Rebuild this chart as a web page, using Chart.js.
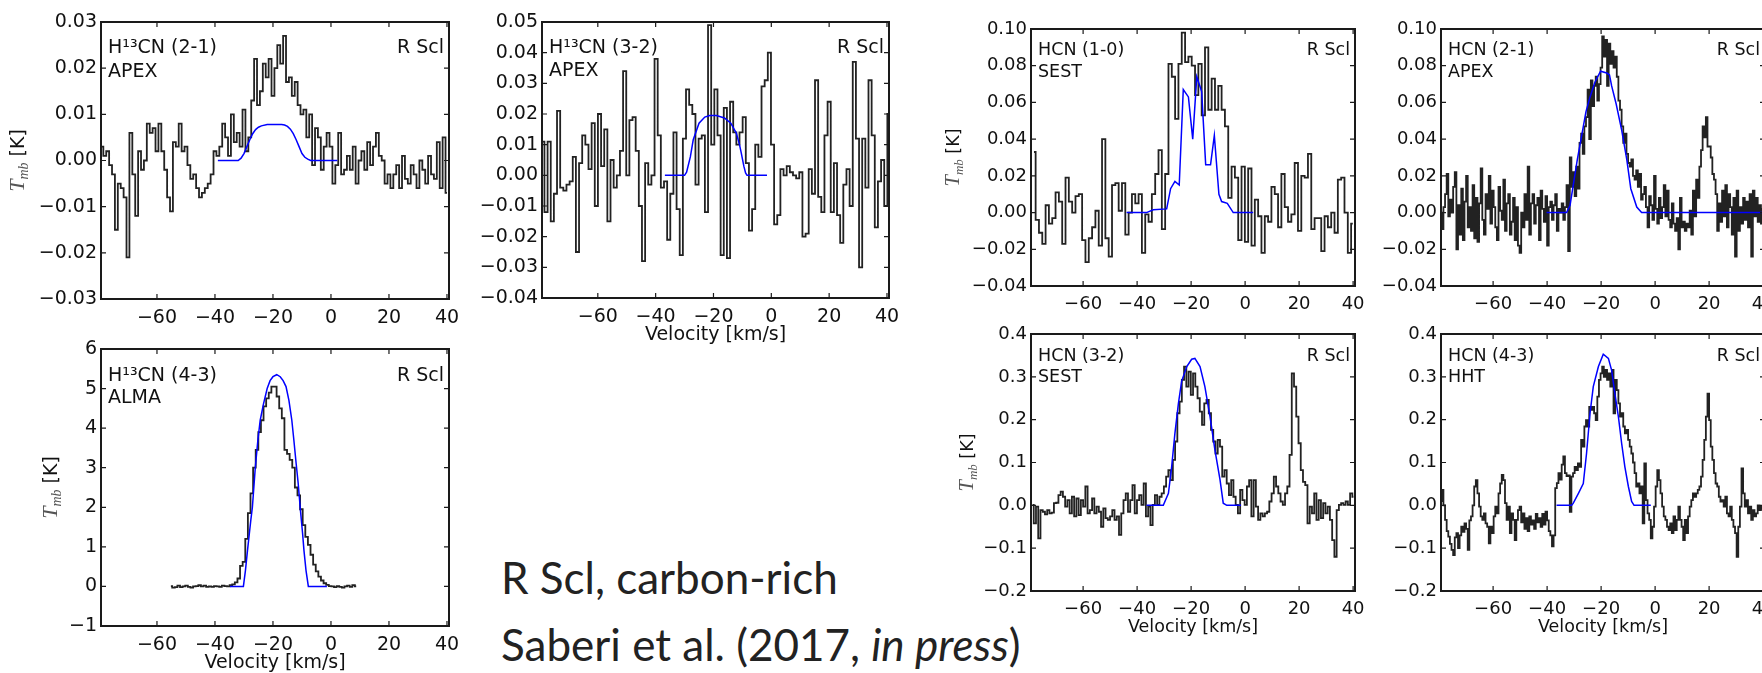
<!DOCTYPE html>
<html lang="en">
<head>
<meta charset="UTF-8" />
<title>R Scl HCN spectra</title>
<script src="https://cdn.jsdelivr.net/npm/chart.js@4.4.0/dist/chart.umd.min.js"></script>
<style>
  html, body { margin:0; padding:0; background:#fff; }
  body { width:1762px; height:673px; position:relative; overflow:hidden; }
  canvas { position:absolute; }
  .note { position:absolute; left:501px; font-family:Lato, sans-serif; font-weight:400; font-size:44px; color:#222; white-space:nowrap; line-height:1; }
</style>
</head>
<body>
<div class="note" style="top:555px">R Scl, carbon-rich</div>
<div class="note" style="top:622px">Saberi et al. (2017, <i>in press</i>)</div>

<script>
// ── shared axis values ─────────────────────────────────────────
const vMin = -79.3, vMax = 40.7;
const xTicks = [-60, -40, -20, 0, 20, 40];

// ── H13CN (2-1) APEX ───────────────────────────────────────────
const h21Start = -79, h21Step = 1.0;
const h21T = [
  0.003, 0.001, 0.002, -0.001, -0.003, -0.015, -0.005, -0.006, -0.008, -0.021,
  0.006, -0.003, -0.012, 0.002, -0.002, 0.000, 0.008, 0.006, 0.007, 0.002,
  0.008, 0.002, -0.002, -0.008, -0.011, 0.004, 0.003, 0.008, 0.002, 0.003,
  -0.001, -0.004, -0.003, -0.006, -0.008, -0.007, -0.006, -0.005, -0.003, 0.002,
  0.001, 0.003, 0.008, 0.005, 0.001, 0.010, 0.004, 0.006, 0.003, 0.011,
  0.002, 0.005, 0.013, 0.022, 0.012, 0.015, 0.021, 0.018, 0.022, 0.014,
  0.020, 0.025, 0.021, 0.027, 0.017, 0.018, 0.014, 0.017, 0.012, 0.010,
  0.011, 0.005, 0.010, -0.001, 0.007, 0.005, -0.002, 0.003, 0.006, 0.003,
  -0.005, -0.001, 0.006, -0.003, -0.002, 0.001, -0.002, 0.003, -0.005, 0.000,
  0.002, -0.002, 0.004, -0.001, 0.003, 0.006, 0.001, 0.000, -0.005, -0.003,
  -0.006, -0.003, -0.001, -0.006, 0.001, -0.004, -0.005, -0.001, -0.003, -0.006,
  0.000, -0.002, -0.005, 0.001, -0.003, -0.004, 0.004, -0.006, 0.005, -0.007
];
const h21ModelV = [-39, -32, -31, -30, -29, -28, -27, -26, -25, -24, -22, -17, -16, -15, -14, -13, -12, -11, -10, -9, -8, -7, 2.2];
const h21ModelT = [0, 0, 0.0005, 0.0015, 0.003, 0.0045, 0.0058, 0.0067, 0.0072, 0.0075, 0.0078, 0.0078, 0.0077, 0.0074, 0.0068, 0.0058, 0.0045, 0.003, 0.0015, 0.0007, 0.0003, 0, 0];

// ── H13CN (3-2) APEX ───────────────────────────────────────────
const h32Start = -79, h32Step = 1.088;
const h32T = [
  0.011, -0.012, 0.011, -0.015, -0.006, 0.021, -0.004, -0.005, -0.003, -0.002,
  0.006, -0.025, 0.004, 0.013, 0.010, 0.002, 0.017, -0.010, 0.020, 0.003,
  0.015, -0.015, 0.005, -0.004, 0.000, 0.008, 0.034, 0.000, 0.018, 0.019,
  0.008, -0.010, -0.028, 0.004, -0.003, 0.000, 0.038, 0.013, -0.004, -0.002,
  -0.021, -0.006, 0.014, -0.011, -0.026, 0.012, 0.028, 0.023, 0.020, -0.003,
  0.012, 0.013, -0.012, 0.049, 0.010, 0.028, 0.013, -0.026, 0.022, -0.027,
  0.024, 0.014, 0.010, 0.014, 0.019, 0.004, -0.018, -0.011, 0.010, 0.006,
  0.029, 0.031, 0.040, 0.010, -0.016, -0.013, 0.002, 0.000, 0.003, 0.001,
  0.000, -0.001, 0.001, -0.020, -0.019, 0.002, -0.006, 0.031, -0.007, -0.012,
  0.013, 0.024, -0.012, 0.004, -0.013, -0.022, -0.003, 0.002, -0.010, 0.037,
  0.012, -0.030, 0.012, -0.004, 0.031, 0.013, -0.017, -0.002, 0.005, -0.010,
  0.020
];
const h32ModelV = [-36.8, -30, -29.3, -28, -27, -25, -23, -21.3, -19, -16.2, -14, -12.1, -11, -10.4, -9.5, -8.9, -8.4, -1.5];
const h32ModelT = [0, 0, 0.001, 0.006, 0.0116, 0.017, 0.019, 0.0195, 0.0195, 0.0187, 0.017, 0.0138, 0.010, 0.0073, 0.003, 0.0008, 0, 0];

// ── H13CN (4-3) ALMA ───────────────────────────────────────────
const h43Start = -55.2, h43Step = 0.9;
const h43T = [
  0.01, -0.03, -0.02, 0.02, -0.02, 0.00, 0.02, -0.01, -0.03, 0.00,
  0.01, 0.03, 0.00, 0.02, -0.01, 0.00, -0.01, 0.01, 0.00, -0.01,
  0.02, 0.01, 0.00, 0.03, 0.05, 0.10, 0.20, 0.52, 0.62, 1.20,
  1.85, 2.35, 3.00, 3.45, 3.90, 4.20, 4.55, 4.75, 4.90, 5.05,
  5.05, 4.80, 4.50, 4.25, 3.45, 3.35, 3.20, 3.00, 2.50, 2.30,
  1.95, 1.55, 1.25, 1.05, 0.80, 0.55, 0.38, 0.25, 0.15, 0.08,
  0.04, 0.01, 0.00, -0.02, 0.01, -0.01, -0.03, 0.00, 0.02, -0.01,
  0.03, 0.00
];
const h43ModelV = [-34.8, -30.2, -29.5, -28.8, -28.2, -27.6, -27.1, -26.1, -25.2, -24.4, -23.3, -22, -21, -20, -18.7, -17.5, -16.5, -15.5, -14.5, -13.5, -12.8, -12, -11.3, -10.5, -9.8, -9.3, -8.6, -7.8, -1.4];
const h43ModelT = [0, 0, 0.4, 0.9, 1.3, 1.7, 2.0, 3.0, 3.7, 4.2, 4.6, 5.0, 5.2, 5.3, 5.35, 5.3, 5.2, 5.05, 4.7, 4.2, 3.7, 3.1, 2.6, 1.9, 1.35, 0.9, 0.4, 0, 0];

// ── HCN (1-0) SEST ─────────────────────────────────────────────
const c10Start = -78.2, c10Step = 1.23;
const c10T = [
  0.033, -0.004, -0.011, -0.017, 0.004, -0.006, -0.003, 0.011, 0.006, -0.017,
  0.019, 0.006, 0.000, 0.009, 0.010, -0.015, -0.027, -0.014, -0.008, 0.001,
  -0.018, 0.040, -0.014, -0.024, 0.015, 0.016, 0.001, 0.016, -0.012, 0.000,
  0.010, 0.005, 0.010, -0.022, -0.001, -0.005, 0.010, 0.021, 0.034, -0.009,
  0.021, 0.081, 0.074, 0.051, 0.081, 0.098, 0.082, 0.085, 0.080, 0.064,
  0.081, 0.053, 0.090, 0.056, 0.073, 0.056, 0.069, 0.056, 0.047, 0.008,
  0.025, 0.019, -0.015, 0.025, -0.016, 0.024, -0.018, 0.007, -0.002, -0.022,
  -0.002, -0.005, 0.014, 0.010, -0.008, 0.021, 0.003, -0.005, -0.001, 0.027,
  -0.010, 0.020, 0.019, 0.032, -0.009, -0.003, -0.003, -0.021, -0.002, -0.008,
  0.000, -0.011, 0.018, 0.019, 0.000, -0.022, -0.006
];
const c10ModelV = [-43.9, -36.5, -34.0, -29.05, -27.6, -26.0, -24.4, -22.9, -21.0, -19.4, -17.9, -16.1, -14.6, -12.8, -11.4, -9.7, -8.7, -6.6, -4.4, 3.0];
const c10ModelT = [0, 0, 0.0015, 0.002, 0.013, 0.017, 0.015, 0.067, 0.063, 0.040, 0.074, 0.066, 0.026, 0.026, 0.042, 0.010, 0.006, 0.005, 0, 0];

// ── HCN (2-1) APEX ─────────────────────────────────────────────
const c21Start = -79.3, c21Step = 0.6;
const c21T = [
  0.000, -0.009, 0.003, 0.010, 0.021, -0.002, 0.007, 0.000, 0.014, 0.022,
  -0.020, 0.004, -0.012, 0.013, -0.015, 0.006, 0.020, -0.008, 0.003, -0.010,
  0.015, -0.014, 0.008, -0.016, 0.005, 0.024, -0.004, -0.012, 0.010, 0.002,
  0.020, -0.006, 0.012, 0.003, -0.008, -0.015, 0.014, 0.001, -0.004, 0.018,
  -0.010, 0.005, 0.010, -0.012, -0.005, 0.008, -0.015, 0.003, -0.018, -0.022,
  0.000, -0.008, 0.010, -0.004, 0.025, -0.012, 0.005, 0.010, -0.006, 0.004,
  0.008, -0.015, 0.012, 0.002, -0.005, 0.009, -0.018, 0.003, 0.006, -0.004,
  0.004, 0.010, -0.010, 0.002, 0.000, 0.005, -0.004, 0.003, 0.015, -0.021,
  0.030, 0.014, 0.022, 0.009, 0.025, 0.013, 0.038, 0.043, 0.032, 0.047,
  0.052, 0.067, 0.040, 0.072, 0.058, 0.069, 0.074, 0.061, 0.070, 0.079,
  0.096, 0.085, 0.094, 0.069, 0.092, 0.081, 0.088, 0.079, 0.085, 0.074,
  0.061, 0.056, 0.047, 0.038, 0.043, 0.032, 0.027, 0.025, 0.029, 0.020,
  0.018, 0.023, 0.014, 0.021, 0.007, 0.010, 0.014, 0.003, -0.008, 0.009,
  0.004, -0.004, 0.020, 0.002, -0.006, 0.008, -0.003, 0.003, 0.015, -0.002,
  0.012, -0.004, -0.008, 0.005, -0.006, -0.010, -0.003, -0.020, 0.008, -0.008,
  -0.005, -0.010, -0.006, -0.008, 0.001, -0.012, 0.012, -0.002, 0.018, 0.008,
  0.025, 0.034, 0.047, 0.041, 0.052, 0.036, 0.036, 0.030, 0.021, 0.018,
  0.010, -0.010, 0.005, -0.005, 0.012, -0.002, 0.015, -0.008, 0.010, 0.003,
  -0.012, 0.008, -0.024, 0.012, -0.010, 0.003, -0.006, 0.008, -0.004, 0.006,
  -0.008, 0.010, -0.024, 0.012, -0.002, 0.008, -0.005, 0.004, -0.006, 0.002
];
const c21ModelV = [-40.2, -32.8, -31.5, -28.8, -25.6, -24.1, -22.3, -20.2, -17.9, -16.9, -16.1, -14.4, -12.4, -10.5, -9.0, -6.8, -5.0, 40.7];
const c21ModelT = [0, 0, 0.004, 0.029, 0.055, 0.063, 0.071, 0.077, 0.076, 0.075, 0.069, 0.059, 0.045, 0.029, 0.013, 0.003, 0, 0];

// ── HCN (3-2) SEST ─────────────────────────────────────────────
const c32Start = -78.7, c32Step = 0.831;
const c32T = [
  0.001, -0.042, -0.003, -0.077, -0.011, -0.015, -0.021, -0.011, -0.019, -0.017,
  0.005, 0.006, 0.024, 0.032, 0.020, -0.003, 0.012, -0.019, 0.020, -0.026,
  0.016, -0.023, 0.012, -0.003, 0.044, -0.019, -0.011, 0.016, -0.019, -0.003,
  -0.015, -0.050, -0.007, -0.030, -0.034, -0.026, -0.011, -0.034, -0.026, -0.069,
  -0.019, 0.012, 0.028, -0.015, 0.012, 0.047, -0.019, 0.012, 0.024, 0.001,
  0.051, -0.026, -0.003, -0.046, 0.001, 0.024, 0.001, 0.020, 0.028, 0.044,
  0.067, 0.082, 0.059, 0.106, 0.149, 0.215, 0.242, 0.293, 0.324, 0.277,
  0.312, 0.258, 0.308, 0.277, 0.250, 0.219, 0.188, 0.238, 0.246, 0.215,
  0.176, 0.149, 0.121, 0.153, 0.137, 0.067, 0.082, 0.051, 0.024, 0.059,
  0.020, 0.001, -0.019, 0.036, 0.012, 0.001, 0.044, 0.059, -0.026, 0.059,
  -0.003, -0.034, -0.019, -0.026, -0.019, -0.015, 0.009, 0.028, 0.067, 0.044,
  0.028, 0.009, 0.001, 0.028, 0.044, 0.118, 0.308, 0.277, 0.207, 0.145,
  0.082, 0.055, 0.047, -0.042, -0.003, -0.019, 0.028, -0.034, 0.012, -0.030,
  0.005, -0.019, -0.003, -0.034, -0.081, -0.120, -0.011, 0.001, 0.005, 0.001,
  0.009, 0.001, 0.028, 0.020
];
const c32ModelV = [-36.5, -30.3, -28.4, -27.2, -26, -24.7, -23.5, -21.6, -19.8, -18.6, -16.7, -14.9, -13.0, -11.2, -9.3, -8.1, -6.8, -1.5];
const c32ModelT = [0, 0, 0.028, 0.09, 0.168, 0.238, 0.29, 0.324, 0.341, 0.343, 0.324, 0.277, 0.207, 0.13, 0.06, 0.005, 0, 0];

// ── HCN (4-3) HHT ──────────────────────────────────────────────
const c43Start = -79.3, c43Step = 0.6;
const c43T = [
  0.010, 0.036, 0.000, -0.034, -0.060, -0.073, -0.090, -0.104, -0.116, -0.075,
  -0.065, -0.100, -0.070, -0.050, -0.062, -0.042, -0.055, -0.104, -0.035, -0.026,
  0.000, 0.044, 0.059, 0.028, -0.003, -0.026, -0.034, -0.019, -0.042, -0.050,
  -0.089, -0.050, -0.065, -0.026, -0.003, -0.019, 0.028, 0.051, 0.071, 0.059,
  0.005, -0.034, -0.003, -0.065, -0.019, -0.034, -0.081, -0.034, -0.011, -0.003,
  -0.040, -0.019, -0.055, -0.030, -0.060, -0.026, -0.045, -0.035, -0.055, -0.020,
  -0.040, -0.030, -0.050, -0.020, -0.045, -0.015, -0.035, -0.060, -0.070, -0.096,
  -0.070, 0.040, 0.052, 0.075, 0.060, 0.095, 0.114, 0.075, 0.068, 0.070,
  -0.015, 0.067, 0.075, 0.090, 0.082, 0.098, 0.090, 0.153, 0.137, 0.184,
  0.199, 0.184, 0.230, 0.223, 0.230, 0.215, 0.199, 0.254, 0.293, 0.308,
  0.324, 0.300, 0.316, 0.293, 0.308, 0.277, 0.316, 0.215, 0.293, 0.269,
  0.238, 0.207, 0.215, 0.184, 0.168, 0.176, 0.153, 0.137, 0.121, 0.100,
  0.075, 0.044, 0.051, 0.028, 0.044, -0.042, 0.098, 0.012, -0.019, -0.034,
  -0.077, -0.050, -0.003, 0.044, 0.082, 0.059, 0.028, -0.003, -0.026, -0.034,
  -0.050, -0.058, -0.042, -0.065, -0.026, -0.058, -0.034, -0.003, -0.034, -0.050,
  -0.081, -0.034, -0.065, -0.026, -0.003, 0.012, 0.028, 0.020, 0.028, 0.036,
  0.044, 0.067, 0.106, 0.153, 0.207, 0.261, 0.199, 0.137, 0.106, 0.075,
  0.051, 0.044, 0.020, 0.009, 0.012, -0.003, 0.020, -0.019, -0.026, -0.003,
  -0.034, -0.050, -0.065, -0.120, -0.050, -0.003, 0.086, 0.028, -0.003, 0.012,
  -0.019, -0.003, -0.034, -0.011, -0.026, -0.019, 0.000, -0.011, -0.003, -0.008
];
const c43ModelV = [-36.5, -30.9, -30.3, -28.4, -26.6, -25.4, -24.1, -22.9, -21.0, -19.2, -17.3, -16.1, -14.9, -13.6, -12.4, -11.2, -9.9, -8.7, -7.8, -1.6];
const c43ModelT = [0, 0, 0.005, 0.028, 0.051, 0.121, 0.215, 0.277, 0.324, 0.353, 0.343, 0.315, 0.261, 0.207, 0.145, 0.090, 0.044, 0.009, 0, 0];

// ── y tick values ──────────────────────────────────────────────
const yTicksA = [-0.03, -0.02, -0.01, 0, 0.01, 0.02, 0.03];
const yTicksB = [-0.04, -0.03, -0.02, -0.01, 0, 0.01, 0.02, 0.03, 0.04, 0.05];
const yTicksC = [-1, 0, 1, 2, 3, 4, 5, 6];
const yTicksHCNlow = [-0.04, -0.02, 0, 0.02, 0.04, 0.06, 0.08, 0.10];
const yTicksHCNhigh = [-0.2, -0.1, 0, 0.1, 0.2, 0.3, 0.4];

const spec = (start, step, vals) => vals.map((t, i) => ({ x: start + i * step, y: t }));
const model = (vs, ts) => vs.map((v, i) => ({ x: v, y: ts[i] }));
const fmt = (v, d) => (v < 0 ? '\u2212' : '') + Math.abs(v).toFixed(d);

// panel frames in page pixels: [left, top, right, bottom] of the plot area
const panels = [
  { box: [101, 22, 449, 299], line: 'H\u00b9\u00b3CN (2-1)', tel: 'APEX', yt: yTicksA, dec: 2,
    data: spec(h21Start, h21Step, h21T), fit: model(h21ModelV, h21ModelT), size: 19, b1: 31, b2: 55, yTitle: -84, xTitle: 0 },
  { box: [542, 22, 889, 298], line: 'H\u00b9\u00b3CN (3-2)', tel: 'APEX', yt: yTicksB, dec: 2,
    data: spec(h32Start, h32Step, h32T), fit: model(h32ModelV, h32ModelT), size: 19, b1: 31, b2: 54, yTitle: 0, xTitle: 37 },
  { box: [101, 349, 449, 626], line: 'H\u00b9\u00b3CN (4-3)', tel: 'ALMA', yt: yTicksC, dec: 0,
    data: spec(h43Start, h43Step, h43T), fit: model(h43ModelV, h43ModelT), size: 19, b1: 32, b2: 54, yTitle: -51, xTitle: 37 },
  { box: [1031, 29, 1355, 286], line: 'HCN (1-0)', tel: 'SEST', yt: yTicksHCNlow, dec: 2,
    data: spec(c10Start, c10Step, c10T), fit: model(c10ModelV, c10ModelT), size: 17.5, b1: 26, b2: 48, yTitle: -78, xTitle: 0 },
  { box: [1441, 29, 1765, 286], line: 'HCN (2-1)', tel: 'APEX', yt: yTicksHCNlow, dec: 2,
    data: spec(c21Start, c21Step, c21T), fit: model(c21ModelV, c21ModelT), size: 17.5, b1: 26, b2: 48, yTitle: 0, xTitle: 0 },
  { box: [1031, 334, 1355, 591], line: 'HCN (3-2)', tel: 'SEST', yt: yTicksHCNhigh, dec: 1,
    data: spec(c32Start, c32Step, c32T), fit: model(c32ModelV, c32ModelT), size: 17.5, b1: 27, b2: 48, yTitle: -64, xTitle: 36 },
  { box: [1441, 334, 1765, 591], line: 'HCN (4-3)', tel: 'HHT', yt: yTicksHCNhigh, dec: 1,
    data: spec(c43Start, c43Step, c43T), fit: model(c43ModelV, c43ModelT), size: 17.5, b1: 27, b2: 48, yTitle: 0, xTitle: 36 }
];

const PL = 100, PR = 20, PT = 20, PB = 60;

// frame, inward ticks on all sides, labels
const panelDecor = {
  id: 'panelDecor',
  afterDraw(chart, args, o) {
    const { ctx, chartArea: a, scales: { x, y } } = chart;
    ctx.save();
    ctx.strokeStyle = '#1a1a1a';
    ctx.lineWidth = 1.2;
    ctx.beginPath();
    x.ticks.forEach(t => {
      const p = x.getPixelForValue(t.value);
      ctx.moveTo(p, a.bottom); ctx.lineTo(p, a.bottom - 5);
      ctx.moveTo(p, a.top); ctx.lineTo(p, a.top + 5);
    });
    y.ticks.forEach(t => {
      const p = y.getPixelForValue(t.value);
      ctx.moveTo(a.left, p); ctx.lineTo(a.left + 5, p);
      ctx.moveTo(a.right, p); ctx.lineTo(a.right - 5, p);
    });
    ctx.stroke();
    ctx.lineWidth = 2;
    ctx.strokeRect(a.left, a.top, a.right - a.left, a.bottom - a.top);

    ctx.fillStyle = '#111';
    ctx.font = o.size + 'px "DejaVu Sans"';
    ctx.textBaseline = 'alphabetic';
    ctx.textAlign = 'left';
    ctx.fillText(o.line, a.left + 7, a.top + o.b1);
    ctx.fillText(o.tel, a.left + 7, a.top + o.b2);
    ctx.textAlign = 'right';
    ctx.fillText('R Scl', a.right - 5, a.top + o.b1);

    if (o.xTitle) {
      ctx.textAlign = 'center';
      ctx.textBaseline = 'middle';
      ctx.fillText('Velocity [km/s]', (a.left + a.right) / 2, a.bottom + o.xTitle);
    }
    if (o.yTitle) {
      const fT = 'italic ' + (o.size + 3) + 'px "Liberation Serif"';
      const fS = 'italic ' + Math.round(o.size * 0.72) + 'px "Liberation Serif"';
      const fK = o.size + 'px "DejaVu Sans"';
      ctx.font = fT; const wT = ctx.measureText('T').width;
      ctx.font = fS; const wS = ctx.measureText('mb').width;
      ctx.font = fK; const wK = ctx.measureText(' [K]').width;
      ctx.translate(a.left + o.yTitle, (a.top + a.bottom) / 2);
      ctx.rotate(-Math.PI / 2);
      let x0 = -(wT + wS + wK) / 2;
      const base = o.size * 0.36;
      ctx.textAlign = 'left';
      ctx.textBaseline = 'alphabetic';
      ctx.fillStyle = '#555';
      ctx.font = fT; ctx.fillText('T', x0, base); x0 += wT;
      ctx.font = fS; ctx.fillText('mb', x0, base + 4); x0 += wS;
      ctx.fillStyle = '#111';
      ctx.font = fK; ctx.fillText(' [K]', x0, base);
    }
    ctx.restore();
  }
};

Chart.defaults.font.family = '"DejaVu Sans"';
Chart.defaults.color = '#111';

panels.forEach(p => {
  const [l, t, r, b] = p.box;
  const cv = document.createElement('canvas');
  cv.width = (r - l) + PL + PR;
  cv.height = (b - t) + PT + PB;
  cv.style.left = (l - PL) + 'px';
  cv.style.top = (t - PT) + 'px';
  document.body.appendChild(cv);

  const tickSize = p.size >= 19 ? 19 : 18;
  new Chart(cv, {
    type: 'line',
    data: {
      datasets: [
        { data: p.fit, borderColor: '#0000ff', borderWidth: 1.5, pointRadius: 0, tension: 0, fill: false },
        { data: p.data, borderColor: '#222', borderWidth: 1.8, pointRadius: 0, stepped: 'middle', fill: false }
      ]
    },
    options: {
      responsive: false,
      animation: false,
      devicePixelRatio: 1,
      events: [],
      layout: { padding: { left: 0, top: PT, right: PR, bottom: 0 } },
      plugins: {
        legend: { display: false },
        tooltip: { enabled: false },
        panelDecor: { size: p.size, line: p.line, tel: p.tel, b1: p.b1, b2: p.b2, yTitle: p.yTitle, xTitle: p.xTitle }
      },
      scales: {
        x: {
          type: 'linear', min: vMin, max: vMax,
          afterBuildTicks: s => { s.ticks = xTicks.map(v => ({ value: v })); },
          afterFit: s => { s.height = PB; },
          grid: { display: false, drawTicks: false },
          border: { display: false },
          ticks: { padding: 8, autoSkip: false, maxRotation: 0, font: { size: tickSize }, callback: v => fmt(v, 0) }
        },
        y: {
          type: 'linear', min: p.yt[0], max: p.yt[p.yt.length - 1],
          afterBuildTicks: s => { s.ticks = p.yt.map(v => ({ value: v })); },
          afterFit: s => { s.width = PL; },
          grid: { display: false, drawTicks: false },
          border: { display: false },
          ticks: { padding: 4, autoSkip: false, font: { size: tickSize }, callback: v => fmt(v, p.dec) }
        }
      }
    },
    plugins: [panelDecor]
  });
});
</script>
</body>
</html>
